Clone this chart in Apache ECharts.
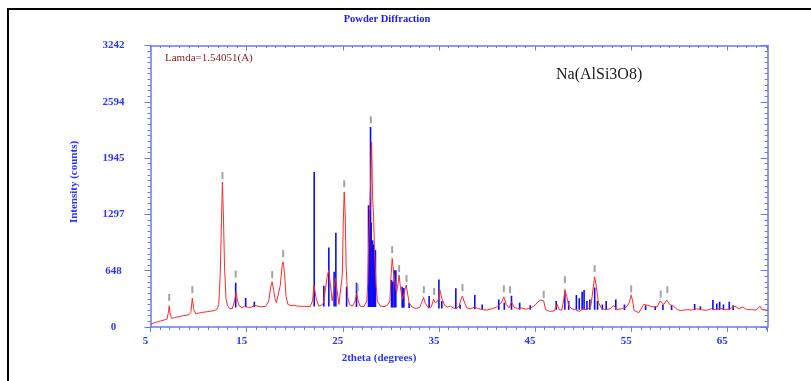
<!DOCTYPE html>
<html><head><meta charset="utf-8">
<script src="https://cdn.jsdelivr.net/npm/echarts@6/dist/echarts.min.js"></script>
<style>html,body{margin:0;padding:0;background:#fff}#c{width:811px;height:381px}</style>
</head><body><div id="c"></div>
<script>
// ---------------- data ----------------
const X_MIN = 5, X_MAX = 69.2;          // 2theta range (degrees)
const Y_MIN = 0, Y_MAX = 3242;          // intensity range
const xTickLabels = ['5','15','25','35','45','55','65'];
const yTickLabels = ['0','648','1297','1945','2594','3242'];

// measured profile (red)  [2theta, counts]
const redProfile = [
[5.0,30],[5.3,45],[5.6,55],[6.0,68],[6.4,80],[6.7,90],[6.85,160],[6.95,245],[7.05,150],[7.2,100],[7.5,108],[7.8,115],
[8.1,122],[8.4,130],[8.7,135],[9.0,142],[9.2,170],[9.35,333],[9.5,200],[9.7,150],[10.0,160],[10.4,168],[10.8,175],
[11.2,180],[11.6,190],[11.9,200],[12.1,260],[12.25,600],[12.4,1300],[12.48,1670],[12.58,1300],[12.7,700],[12.85,330],
[13.0,250],[13.2,215],[13.5,210],[13.75,300],[13.9,400],[14.0,330],[14.2,250],[14.5,220],[14.8,240],[15.0,260],
[15.2,225],[15.5,228],[15.8,250],[16.0,230],[16.5,232],[17.0,240],[17.3,300],[17.5,460],[17.65,520],[17.8,430],
[17.95,330],[18.1,280],[18.3,300],[18.5,480],[18.7,720],[18.8,750],[18.95,600],[19.1,350],[19.3,260],[19.6,245],
[20.0,250],[20.3,240],[21.0,238],[21.6,235],[21.85,300],[22.0,480],[22.1,470],[22.25,320],[22.5,240],[22.8,250],
[23.0,280],[23.2,300],[23.4,600],[23.55,655],[23.7,500],[23.9,300],[24.1,450],[24.25,560],[24.4,420],[24.6,260],
[24.8,250],[24.95,600],[25.05,1200],[25.15,1556],[25.25,1300],[25.35,700],[25.5,350],[25.7,260],[26.0,240],[26.3,300],
[26.45,390],[26.6,300],[26.8,240],[27.2,235],[27.5,300],[27.6,500],[27.7,1000],[27.8,1288],[27.9,1700],[28.0,2131],
[28.1,1500],[28.2,1288],[28.3,900],[28.45,500],[28.6,300],[28.9,240],[29.3,235],[29.6,245],[29.9,300],[30.0,550],
[30.14,790],[30.3,620],[30.45,480],[30.6,400],[30.75,500],[30.86,598],[31.0,450],[31.2,320],[31.4,400],[31.6,483],
[31.75,380],[31.9,280],[32.2,230],[32.6,215],[33.0,225],[33.2,280],[33.4,341],[33.6,270],[33.9,220],[34.2,230],
[34.45,318],[34.6,280],[34.9,300],[35.1,425],[35.3,330],[35.6,250],[35.9,230],[36.2,240],[36.5,220],[36.8,210],
[37.1,240],[37.3,320],[37.45,356],[37.6,300],[37.9,220],[38.3,210],[38.7,230],[39.0,215],[39.5,200],[40.0,195],
[40.5,210],[41.0,230],[41.5,280],[41.75,348],[42.0,260],[42.3,220],[42.55,290],[42.8,230],[43.2,210],[43.6,220],
[44.0,205],[44.5,215],[45.0,250],[45.3,290],[45.6,310],[45.9,300],[46.1,200],[46.5,180],[47.0,185],[47.3,260],
[47.5,200],[47.8,195],[48.0,330],[48.1,433],[48.3,350],[48.5,250],[48.8,210],[49.2,200],[49.6,180],[50.0,210],
[50.4,200],[50.8,240],[51.05,450],[51.2,578],[51.35,480],[51.6,280],[51.9,220],[52.3,200],[52.8,210],[53.2,250],
[53.5,200],[54.0,210],[54.5,230],[54.8,280],[55.0,368],[55.15,300],[55.3,190],[55.8,165],[56.0,170],[56.3,260],
[56.7,250],[57.0,240],[57.4,230],[57.7,230],[58.0,300],[58.1,310],[58.4,260],[58.7,310],[58.8,330],[59.0,260],
[59.4,240],[59.8,200],[60.2,190],[60.8,200],[61.3,195],[61.8,210],[62.3,200],[62.8,190],[63.3,210],[63.8,200],
[64.3,215],[64.8,200],[65.3,210],[65.8,240],[66.2,210],[66.6,230],[67.0,200],[67.5,200],[68.0,195],[68.4,240],
[68.6,200],[69.2,195]
];

// reference pattern sticks (blue)
const stickTheta = [13.86,14.9,15.8,22.03,23.03,23.55,24.1,24.28,25.4,26.43,27.68,27.74,27.8,27.89,27.95,28.1,28.17,28.23,28.32,28.4,
  30.07,30.2,30.35,30.52,31.18,31.35,31.9,33.98,35.0,35.3,36.76,37.2,38.73,39.5,41.23,41.8,42.55,43.4,44.5,47.2,48.1,48.5,
  49.3,49.6,49.9,50.1,50.4,50.7,51.2,51.5,52.0,52.4,53.4,54.3,56.5,57.5,58.3,59.2,61.6,62.2,63.5,63.9,64.2,64.6,65.2,65.6];
const stickTop = [510,333,290,1786,475,916,636,1085,463,509,1403,1350,1300,2303,1200,1000,950,905,890,885,
  540,520,655,655,463,450,280,356,548,300,445,260,368,260,318,280,360,280,250,300,406,300,
  368,330,406,425,300,318,456,300,260,300,318,260,250,240,260,250,265,240,310,270,290,260,290,250];
const stickBase = [225,228,230,235,235,235,235,235,232,230,230,230,230,230,230,230,230,230,230,230,
  225,225,225,225,222,222,220,215,212,212,210,210,205,205,200,200,200,200,200,200,200,200,
  200,200,200,200,200,200,200,200,200,200,200,195,195,195,195,195,195,195,195,195,195,195,195,195];

// peak position markers (grey)
const markerTheta = [6.95,9.35,12.48,13.86,17.66,18.8,25.15,26.55,27.92,30.14,30.86,31.63,33.43,34.5,37.45,41.75,42.4,45.9,48.1,51.2,55.0,58.07,58.76];
const markerCount = [300,390,1705,570,563,805,1610,414,2346,851,632,517,390,370,414,400,390,335,505,632,400,340,390];

// ---------------- chart ----------------
const off = v => v - X_MIN;
const axisBlue = '#6478ff', labelBlue = '#2a35ff';
const chart = echarts.init(document.getElementById('c'));
const commonX = {type:'value', min:0, max:X_MAX - X_MIN, interval:10, gridIndex:0};
const commonY = {type:'value', min:Y_MIN, max:Y_MAX, interval:(Y_MAX - Y_MIN)/5};
chart.setOption({
  animation:false,
  backgroundColor:'#fff',
  grid:{left:150.5, right:43.3, top:45.5, bottom:54, containLabel:false},
  xAxis:[
    Object.assign({}, commonX, {position:'bottom',
      axisLine:{show:true, onZero:false, lineStyle:{color:axisBlue, width:1.5}},
      axisTick:{show:true, inside:false, length:5, lineStyle:{color:axisBlue}},
      minorTick:{show:true, splitNumber:10, length:3, lineStyle:{color:axisBlue}},
      splitLine:{show:false},
      axisLabel:{show:true, margin:9, padding:[0,10,0,0], color:labelBlue, fontFamily:'Liberation Serif', fontWeight:'bold', fontSize:11,
        showMaxLabel:false,
        formatter:(v)=>{const k=v/10; return Math.abs(k-Math.round(k))<1e-6 ? xTickLabels[Math.round(k)] : '';}}}),
    Object.assign({}, commonX, {position:'top',
      axisLine:{show:true, onZero:false, lineStyle:{color:axisBlue, width:1.5}},
      axisTick:{show:true, inside:true, length:5, lineStyle:{color:axisBlue}},
      minorTick:{show:true, splitNumber:10, length:2.5, lineStyle:{color:axisBlue}},
      splitLine:{show:false}, axisLabel:{show:false}})
  ],
  yAxis:[
    Object.assign({}, commonY, {position:'left',
      axisLine:{show:true, onZero:false, lineStyle:{color:axisBlue, width:1.5}},
      axisTick:{show:true, inside:false, length:6, lineStyle:{color:axisBlue}},
      minorTick:{show:true, splitNumber:10, length:3, lineStyle:{color:axisBlue}},
      splitLine:{show:false},
      axisLabel:{show:true, margin:37, align:'center', color:labelBlue, fontFamily:'Liberation Serif', fontWeight:'bold', fontSize:11,
        formatter:(v)=>yTickLabels[Math.round(v/((Y_MAX-Y_MIN)/5))]}}),
    Object.assign({}, commonY, {position:'right',
      axisLine:{show:true, onZero:false, lineStyle:{color:axisBlue, width:1.5}},
      axisTick:{show:true, inside:true, length:7, lineStyle:{color:axisBlue}},
      minorTick:{show:true, splitNumber:10, length:3, lineStyle:{color:axisBlue}},
      splitLine:{show:false}, axisLabel:{show:false}})
  ],
  series:[
    {type:'custom', xAxisIndex:0, yAxisIndex:0, silent:true, clip:true,
      data: stickTheta.map((t,i)=>[off(t), stickBase[i], stickTop[i]]),
      renderItem:(params, api)=>{
        const a = api.coord([api.value(0), api.value(1)]);
        const b = api.coord([api.value(0), api.value(2)]);
        return {type:'line', shape:{x1:a[0], y1:a[1], x2:b[0], y2:b[1]}, style:{stroke:'#0a0aff', lineWidth:1.6}};
      }},
    {type:'line', xAxisIndex:0, yAxisIndex:0, silent:true, symbol:'none',
      data: redProfile.map(p=>[off(p[0]), p[1]]),
      lineStyle:{color:'#ff2a2a', width:1}},
    {type:'custom', xAxisIndex:0, yAxisIndex:0, silent:true,
      data: markerTheta.map((t,i)=>[off(t), markerCount[i]]),
      renderItem:(params, api)=>{
        const p = api.coord([api.value(0), api.value(1)]);
        return {type:'line', shape:{x1:p[0], y1:p[1], x2:p[0], y2:p[1]-7}, style:{stroke:'#a3a3a3', lineWidth:2}};
      }}
  ],
  graphic:[
    {type:'rect', shape:{x:8, y:9, width:900, height:500}, style:{fill:'none', stroke:'#000', lineWidth:2}, silent:true},
    {type:'text', x:387, y:19, style:{text:'Powder Diffraction', fill:'#1a1aff', font:'bold 10.5px "Liberation Serif"', textAlign:'center', textVerticalAlign:'middle'}},
    {type:'text', x:165, y:58, style:{text:'Lamda=1.54051(A)', fill:'#8b1a1a', font:'11px "Liberation Serif"', textAlign:'left', textVerticalAlign:'middle'}},
    {type:'text', x:556, y:75, style:{text:'Na(AlSi3O8)', fill:'#1a1a1a', font:'16px "Liberation Serif"', textAlign:'left', textVerticalAlign:'middle'}},
    {type:'text', x:379, y:358, style:{text:'2theta (degrees)', fill:'#2a35ff', font:'bold 11px "Liberation Serif"', textAlign:'center', textVerticalAlign:'middle'}},
    {type:'text', x:74, y:182, rotation:Math.PI/2, style:{text:'Intensity (counts)', fill:'#2a35ff', font:'bold 11px "Liberation Serif"', textAlign:'center', textVerticalAlign:'middle'}}
  ]
});
</script></body></html>
